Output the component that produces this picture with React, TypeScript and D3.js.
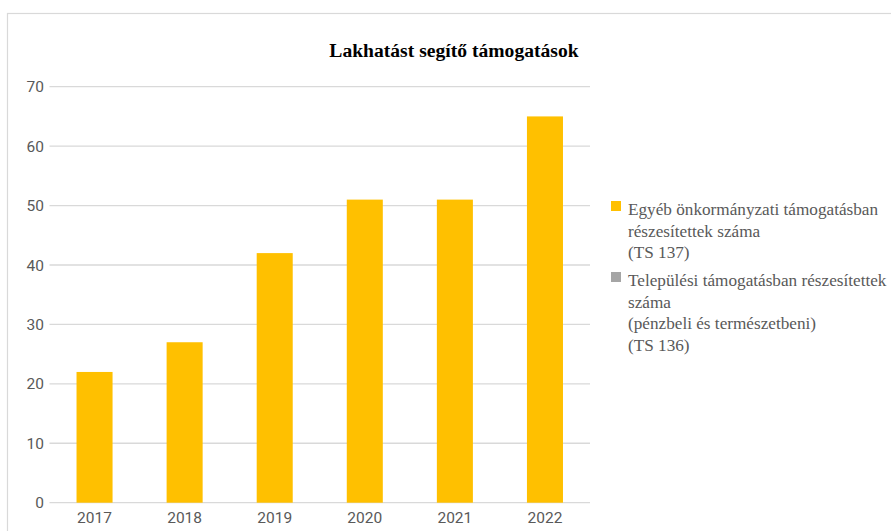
import React from "react";
import * as d3 from "d3";

const years = ["2017", "2018", "2019", "2020", "2021", "2022"];
const egyebValues = [22, 27, 42, 51, 51, 65];
const telepulesiValues: (number | null)[] = [null, null, null, null, null, null];
const yTicks = [0, 10, 20, 30, 40, 50, 60, 70];
const title = "Lakhatást segítő támogatások";
const legendItems = [
  { color: "#FFC000", lines: ["Egyéb önkormányzati támogatásban", "részesítettek száma", "(TS 137)"] },
  { color: "#A5A5A5", lines: ["Települési támogatásban részesítettek", "száma", "(pénzbeli és természetbeni)", "(TS 136)"] },
];

const W = 891;
const H = 531;
const plot = { left: 49.5, right: 590, top: 86.7, bottom: 502.7 };

export default function App() {
  const x = d3.scaleBand<string>().domain(years).range([plot.left, plot.right]).paddingInner(0.6).paddingOuter(0.3);
  const y = d3.scaleLinear().domain([0, 70]).range([plot.bottom, plot.top]);
  const sans = "Roboto, 'Liberation Sans', sans-serif";
  const serif = "'Liberation Serif', 'DejaVu Serif', serif";
  const textColor = "#595959";
  const lineH = 21.5;
  let ly = 215;
  return (
    <svg width={W} height={H} style={{ position: "fixed", left: 0, top: 0, background: "#fff" }}>
      <rect x={7.5} y={13.5} width={W + 20} height={H + 20} fill="#fff" stroke="#D9D9D9" strokeWidth={1.2} />
      <text x={454} y={57} textAnchor="middle" fontFamily={serif} fontWeight="bold" fontSize={19.6} fill="#000">
        {title}
      </text>
      {yTicks.map((t) => (
        <g key={t}>
          <line x1={plot.left} x2={plot.right} y1={y(t)} y2={y(t)} stroke="#D9D9D9" strokeWidth={1.3} />
          <text x={44} y={y(t)} dy="0.36em" textAnchor="end" fontFamily={sans} fontSize={15.5} fill={textColor}>
            {t}
          </text>
        </g>
      ))}
      {years.map((yr, i) => (
        <rect key={yr} x={x(yr)} y={y(egyebValues[i])} width={x.bandwidth()} height={y(0) - y(egyebValues[i])} fill="#FFC000" />
      ))}
      {years.map((yr, i) =>
        telepulesiValues[i] == null ? null : (
          <rect key={"t" + yr} x={x(yr)} y={y(telepulesiValues[i] as number)} width={x.bandwidth()} height={y(0) - y(telepulesiValues[i] as number)} fill="#A5A5A5" />
        )
      )}
      {years.map((yr) => (
        <text key={"l" + yr} x={(x(yr) as number) + x.bandwidth() / 2} y={522.5} textAnchor="middle" fontFamily={sans} fontSize={15.5} fill={textColor}>
          {yr}
        </text>
      ))}
      {legendItems.map((item, k) => {
        const top = ly;
        const g = (
          <g key={k}>
            <rect x={611} y={top - 14} width={10} height={10} fill={item.color} />
            {item.lines.map((ln, j) => (
              <text key={j} x={628} y={top + j * lineH} fontFamily={serif} fontSize={17.2} fill={textColor}>
                {ln}
              </text>
            ))}
          </g>
        );
        ly = top + item.lines.length * lineH + 6.5;
        return g;
      })}
    </svg>
  );
}
